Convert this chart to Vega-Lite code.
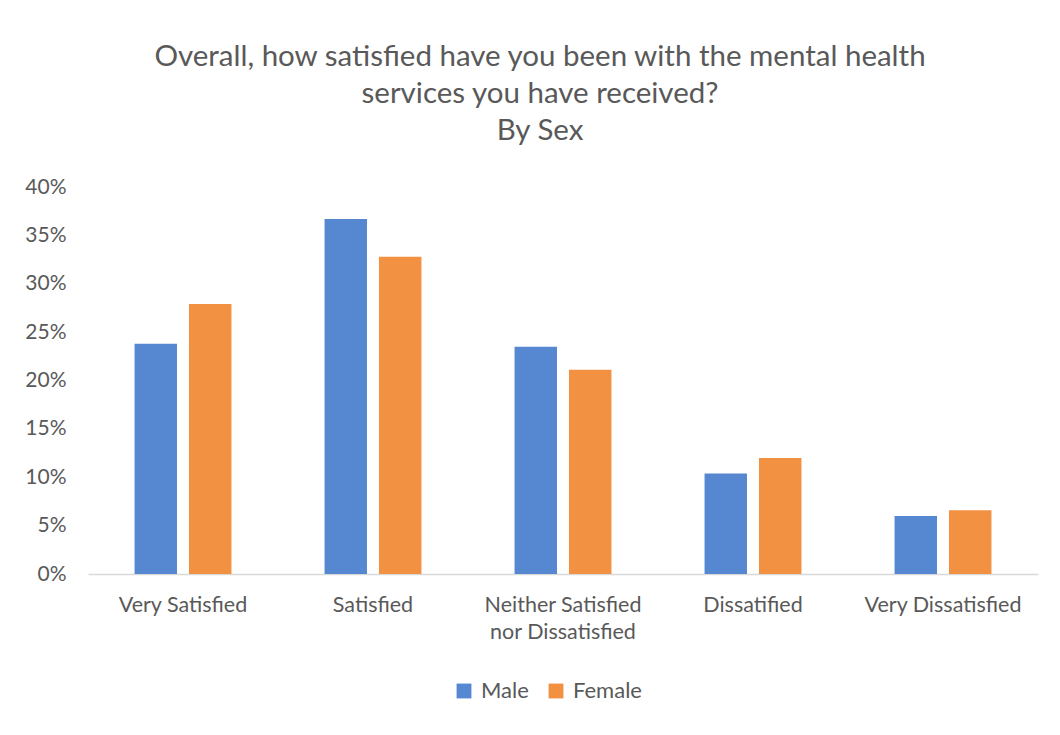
{
  "$schema": "https://vega.github.io/schema/vega-lite/v6.json",
  "width": 950,
  "height": 387,
  "autosize": {"type": "none"},
  "padding": {"left": 88, "top": 187, "right": 22, "bottom": 161},
  "background": "white",
  "title": {
    "text": ["Overall, how satisfied have you been with the mental health", "services you have received?", "By Sex"],
    "font": "Lato",
    "fontSize": 29.5,
    "fontWeight": "normal",
    "color": "#595959",
    "lineHeight": 37,
    "anchor": "middle",
    "frame": "group",
    "dx": -23,
    "offset": 30
  },
  "data": {
    "values": [
      {"category": "Very Satisfied", "sex": "Male", "pct": 0.238},
      {"category": "Very Satisfied", "sex": "Female", "pct": 0.279},
      {"category": "Satisfied", "sex": "Male", "pct": 0.367},
      {"category": "Satisfied", "sex": "Female", "pct": 0.328},
      {"category": "Neither Satisfied nor Dissatisfied", "sex": "Male", "pct": 0.235},
      {"category": "Neither Satisfied nor Dissatisfied", "sex": "Female", "pct": 0.211},
      {"category": "Dissatified", "sex": "Male", "pct": 0.104},
      {"category": "Dissatified", "sex": "Female", "pct": 0.120},
      {"category": "Very Dissatisfied", "sex": "Male", "pct": 0.060},
      {"category": "Very Dissatisfied", "sex": "Female", "pct": 0.066}
    ]
  },
  "mark": {"type": "bar"},
  "encoding": {
    "x": {
      "field": "category",
      "type": "nominal",
      "sort": ["Very Satisfied", "Satisfied", "Neither Satisfied nor Dissatisfied", "Dissatified", "Very Dissatisfied"],
      "scale": {"paddingInner": 0.49, "paddingOuter": 0.245},
      "axis": {
        "title": null,
        "labelAngle": 0,
        "labelFont": "Lato",
        "labelFontSize": 21.5,
        "labelColor": "#595959",
        "labelPadding": 20,
        "labelLineHeight": 27,
        "ticks": false,
        "domainColor": "#d9d9d9",
        "domainWidth": 1.5,
        "labelExpr": "datum.value == 'Neither Satisfied nor Dissatisfied' ? ['Neither Satisfied', 'nor Dissatisfied'] : datum.value"
      }
    },
    "xOffset": {
      "field": "sex",
      "type": "nominal",
      "sort": ["Male", "Female"],
      "scale": {"paddingInner": 0.22}
    },
    "y": {
      "field": "pct",
      "type": "quantitative",
      "scale": {"domain": [0, 0.4]},
      "axis": {
        "title": null,
        "format": ".0%",
        "values": [0, 0.05, 0.1, 0.15, 0.2, 0.25, 0.3, 0.35, 0.4],
        "grid": false,
        "domain": false,
        "ticks": false,
        "labelFont": "Lato",
        "labelFontSize": 21,
        "labelColor": "#595959",
        "labelPadding": 22
      }
    },
    "color": {
      "field": "sex",
      "type": "nominal",
      "sort": ["Male", "Female"],
      "scale": {"domain": ["Male", "Female"], "range": ["#5588D0", "#F29141"]},
      "legend": {
        "title": null,
        "orient": "none",
        "direction": "horizontal",
        "legendX": 365,
        "legendY": 493,
        "symbolType": "square",
        "symbolSize": 220,
        "symbolStrokeWidth": 0,
        "labelFont": "Lato",
        "labelFontSize": 22,
        "labelColor": "#595959",
        "columnPadding": 16,
        "labelOffset": 6
      }
    }
  },
  "config": {"view": {"stroke": null}}
}
